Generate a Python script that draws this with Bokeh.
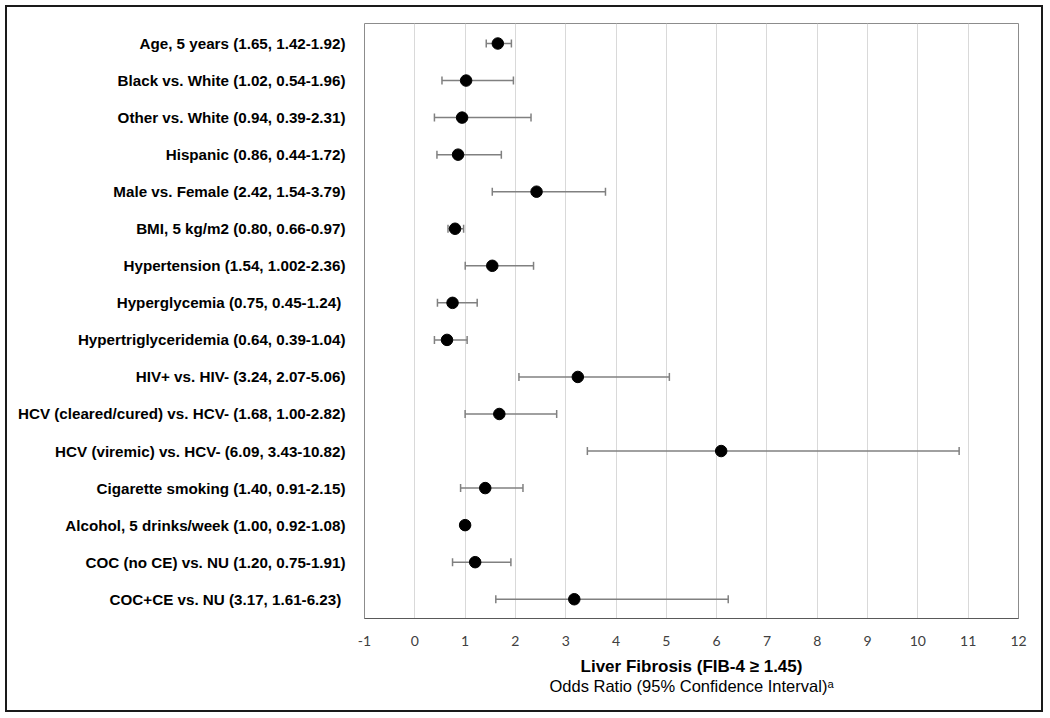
from bokeh.plotting import figure
from bokeh.models import Range1d, FixedTicker, Whisker, TeeHead, ColumnDataSource, Title
from bokeh.layouts import column
from bokeh.embed import file_html
from bokeh.resources import INLINE

labels = [
    "Age, 5 years (1.65, 1.42-1.92)",
    "Black vs. White (1.02, 0.54-1.96)",
    "Other vs. White (0.94, 0.39-2.31)",
    "Hispanic (0.86, 0.44-1.72)",
    "Male vs. Female (2.42, 1.54-3.79)",
    "BMI, 5 kg/m2 (0.80, 0.66-0.97)",
    "Hypertension (1.54, 1.002-2.36)",
    "Hyperglycemia  (0.75, 0.45-1.24)",
    "Hypertriglyceridemia (0.64, 0.39-1.04)",
    "HIV+ vs. HIV- (3.24, 2.07-5.06)",
    "HCV (cleared/cured) vs. HCV- (1.68, 1.00-2.82)",
    "HCV (viremic) vs. HCV- (6.09, 3.43-10.82)",
    "Cigarette smoking (1.40, 0.91-2.15)",
    "Alcohol, 5 drinks/week (1.00, 0.92-1.08)",
    "COC (no CE) vs. NU (1.20, 0.75-1.91)",
    "COC+CE vs. NU  (3.17, 1.61-6.23)",
]
odds = [1.65, 1.02, 0.94, 0.86, 2.42, 0.80, 1.54, 0.75, 0.64, 3.24, 1.68, 6.09, 1.40, 1.00, 1.20, 3.17]
lower = [1.42, 0.54, 0.39, 0.44, 1.54, 0.66, 1.002, 0.45, 0.39, 2.07, 1.00, 3.43, 0.91, 0.92, 0.75, 1.61]
upper = [1.92, 1.96, 2.31, 1.72, 3.79, 0.97, 2.36, 1.24, 1.04, 5.06, 2.82, 10.82, 2.15, 1.08, 1.91, 6.23]
x_ticks = list(range(-1, 13))
x_tick_labels = {t: str(t) for t in x_ticks}

pos = list(range(len(labels)))
src = ColumnDataSource(dict(y=pos, odds=odds, lower=lower, upper=upper))

p = figure(width=1034, height=703, output_backend="svg", toolbar_location=None,
           x_range=Range1d(-1, 12), y_range=Range1d(len(labels) - 1 + 0.52, -0.54),
           min_border_left=357, min_border_top=16, min_border_right=23, min_border_bottom=92)

w = Whisker(source=src, base="y", lower="lower", upper="upper", dimension="width",
            line_color="#808080", line_width=1.5,
            lower_head=TeeHead(size=8, line_color="#808080", line_width=1.5),
            upper_head=TeeHead(size=8, line_color="#808080", line_width=1.5))
p.add_layout(w)
p.scatter("odds", "y", source=src, size=11.5, color="black")

p.outline_line_color = "#8c8c8c"
p.outline_line_width = 1

p.xgrid.ticker = FixedTicker(ticks=x_ticks)
p.xgrid.grid_line_color = "#d9d9d9"
p.ygrid.grid_line_color = None

p.xaxis.ticker = FixedTicker(ticks=x_ticks)
p.xaxis.major_label_overrides = x_tick_labels
p.xaxis.axis_line_color = "#595959"
p.xaxis.axis_line_width = 1
p.xaxis.major_tick_line_color = None
p.xaxis.minor_tick_line_color = None
p.xaxis.major_label_standoff = 11
p.xaxis.major_label_text_font = "Lato"
p.xaxis.major_label_text_font_size = "14px"
p.xaxis.major_label_text_color = "#404040"
p.xaxis.axis_label = "Liver Fibrosis (FIB-4 \u2265 1.45)"
p.xaxis.axis_label_text_font = "Liberation Sans"
p.xaxis.axis_label_text_font_style = "bold"
p.xaxis.axis_label_text_font_size = "17px"
p.xaxis.axis_label_text_color = "black"
p.xaxis.axis_label_standoff = 8

sub = Title(text="Odds Ratio (95% Confidence Interval)\u1d43", align="center",
            text_font="Liberation Sans", text_font_style="normal",
            text_font_size="16.5px", text_color="black", standoff=-7)
p.add_layout(sub, "below")

p.yaxis.ticker = FixedTicker(ticks=pos)
p.yaxis.major_label_overrides = {i: lab for i, lab in enumerate(labels)}
p.yaxis.axis_line_color = None
p.yaxis.major_tick_line_color = None
p.yaxis.minor_tick_line_color = None
p.yaxis.major_label_standoff = 13
p.yaxis.major_label_text_font = "Liberation Sans"
p.yaxis.major_label_text_font_style = "bold"
p.yaxis.major_label_text_font_size = "15.2px"
p.yaxis.major_label_text_color = "black"

lay = column(p, styles={"border": "2px solid #1a1a1a", "margin-left": "5px", "margin-top": "5px"})

open("out.html", "w").write(file_html(lay, INLINE))
